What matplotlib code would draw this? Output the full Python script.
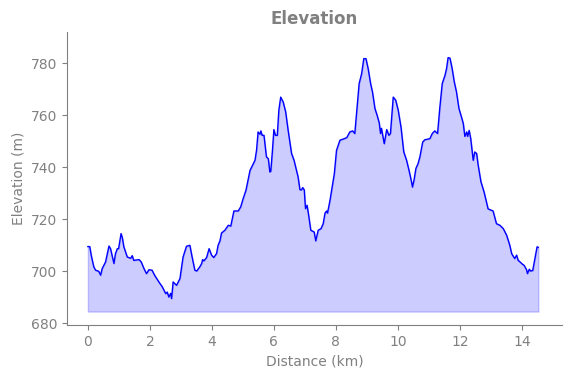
import matplotlib
matplotlib.use('Agg')
import matplotlib.pyplot as plt

distancia = [0.00, 0.06, 0.11, 0.19, 0.25, 0.35, 0.41, 0.46, 0.57, 0.68,
             0.73, 0.84, 0.89, 0.95, 0.99, 1.07, 1.11, 1.16, 1.27, 1.38,
             1.43, 1.48, 1.65, 1.72, 1.81, 1.89, 1.97, 2.07, 2.15, 2.29,
             2.40, 2.51, 2.56, 2.61, 2.67, 2.70, 2.75, 2.86, 2.97, 3.07,
             3.18, 3.29, 3.35, 3.45, 3.51, 3.61, 3.67, 3.70, 3.74, 3.83,
             3.91, 3.99, 4.06, 4.15, 4.20, 4.26, 4.31, 4.42, 4.53, 4.61,
             4.71, 4.85, 4.93, 5.01, 5.10, 5.23, 5.39, 5.44, 5.49, 5.55,
             5.58, 5.62, 5.68, 5.76, 5.82, 5.87, 5.90, 5.95, 6.00, 6.05,
             6.11, 6.16, 6.22, 6.30, 6.38, 6.46, 6.57, 6.65, 6.78, 6.84,
             6.89, 6.93, 6.98, 7.02, 7.07, 7.13, 7.19, 7.30, 7.35, 7.43,
             7.52, 7.59, 7.65, 7.70, 7.73, 7.81, 7.88, 7.95, 8.02, 8.13,
             8.35, 8.45, 8.54, 8.61, 8.67, 8.75, 8.83, 8.90, 8.97, 9.04,
             9.12, 9.18, 9.26, 9.33, 9.40, 9.44, 9.47, 9.51, 9.56, 9.64,
             9.71, 9.76, 9.82, 9.85, 9.93, 10.01, 10.10, 10.19, 10.28, 10.36,
             10.44, 10.47, 10.52, 10.58, 10.65, 10.71, 10.80, 10.87, 11.03, 11.11,
             11.19, 11.28, 11.35, 11.43, 11.52, 11.57, 11.62, 11.68, 11.75, 11.82,
             11.89, 11.97, 12.05, 12.11, 12.16, 12.22, 12.25, 12.30, 12.35, 12.43,
             12.48, 12.54, 12.59, 12.68, 12.78, 12.91, 13.07, 13.18, 13.29, 13.40,
             13.51, 13.61, 13.67, 13.72, 13.77, 13.83, 13.88, 13.94, 14.02, 14.07,
             14.15, 14.18, 14.24, 14.28, 14.35, 14.42, 14.49, 14.53]
elevacion = [709.5, 709.5, 706.0, 701.7, 700.4, 700.0, 698.5, 701.0, 703.6, 709.7,
             708.7, 703.0, 706.8, 708.7, 708.7, 714.5, 713.0, 709.4, 705.5, 705.0,
             706.0, 704.2, 704.5, 703.6, 701.0, 699.1, 700.6, 700.4, 698.5, 695.9,
             694.0, 691.4, 692.0, 690.1, 691.5, 689.5, 695.9, 694.6, 697.2, 705.5,
             709.6, 710.0, 706.2, 700.4, 700.1, 701.7, 703.0, 704.5, 704.0, 705.3,
             708.7, 706.2, 705.3, 706.8, 710.0, 711.7, 714.7, 715.8, 717.7, 717.4,
             723.2, 723.2, 724.8, 728.0, 731.2, 738.8, 742.7, 746.5, 753.6, 752.7,
             754.0, 752.3, 752.3, 744.0, 743.3, 738.2, 738.5, 745.9, 754.5, 752.3,
             752.3, 762.0, 767.0, 765.1, 761.3, 754.2, 745.3, 742.7, 736.3, 731.4,
             731.3, 732.2, 731.3, 724.1, 725.4, 720.9, 715.8, 715.1, 711.7, 715.8,
             716.4, 718.3, 722.4, 723.2, 722.4, 727.3, 732.4, 737.6, 746.5, 750.4,
             751.4, 753.6, 754.0, 753.0, 761.3, 772.2, 776.0, 781.8, 781.8, 778.0,
             772.2, 769.0, 762.6, 760.0, 757.0, 753.0, 755.0, 752.3, 749.1, 754.5,
             752.3, 753.0, 762.6, 767.0, 765.8, 762.0, 755.5, 745.9, 742.7, 738.8,
             734.4, 732.4, 735.0, 739.5, 741.4, 744.0, 749.7, 750.6, 751.0, 753.0,
             754.0, 753.0, 762.6, 772.2, 775.4, 778.0, 782.2, 782.0, 778.0, 772.8,
             769.0, 762.6, 759.4, 756.8, 751.9, 753.6, 751.9, 754.2, 751.0, 742.7,
             745.9, 745.3, 740.8, 734.4, 730.5, 724.0, 723.2, 718.3, 717.7, 716.4,
             713.8, 710.0, 706.8, 705.8, 704.9, 706.2, 704.2, 703.6, 702.7, 702.3,
             700.6, 699.1, 700.8, 700.1, 700.3, 704.9, 709.4, 709.2]

gris = '#808080'
fig = plt.figure(figsize=(5.71, 3.78), dpi=100)
ax = fig.add_axes([0.117, 0.140, 0.867, 0.775])

base = min(elevacion) - 5
ax.fill_between(distancia, elevacion, base, color='blue', alpha=0.2)
ax.plot(distancia, elevacion, color='blue', linewidth=1)

ax.set_xlim(-0.68, 15.29)
ax.set_ylim(679.3, 792)
ax.set_xticks(range(0, 15, 2))
ax.set_yticks(range(680, 781, 20))

ax.set_title('Elevation', fontsize=12, fontweight='bold', color=gris)
ax.set_xlabel('Distance (km)', color=gris)
ax.set_ylabel('Elevation (m)', color=gris)
ax.tick_params(colors=gris, labelcolor=gris)
for lado in ['top', 'right']:
    ax.spines[lado].set_visible(False)
for lado in ['left', 'bottom']:
    ax.spines[lado].set_color(gris)

plt.savefig('out.png', dpi=100)
